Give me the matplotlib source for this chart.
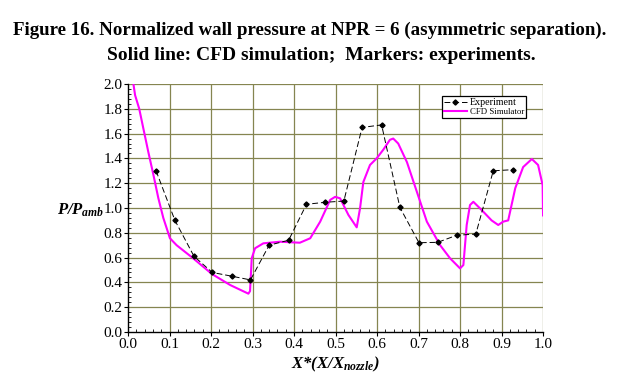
import matplotlib
matplotlib.use("Agg")
import matplotlib.pyplot as plt
from matplotlib.ticker import MultipleLocator

# Experimental data
exp_x = [0.0675, 0.113, 0.159, 0.203, 0.250, 0.295, 0.340, 0.387, 0.430, 0.475,
         0.520, 0.564, 0.611, 0.655, 0.701, 0.746, 0.792, 0.838, 0.880, 0.927]
exp_y = [1.30, 0.90, 0.61, 0.48, 0.45, 0.42, 0.70, 0.74, 1.03, 1.046,
         1.056, 1.65, 1.67, 1.005, 0.72, 0.723, 0.78, 0.79, 1.30, 1.309]

# CFD simulation
cfd_x = [0.010, 0.013, 0.017, 0.027, 0.037, 0.049, 0.061, 0.073, 0.085, 0.101,
         0.117, 0.157, 0.202, 0.246, 0.290, 0.294, 0.298, 0.306, 0.326, 0.366,
         0.414, 0.439, 0.463, 0.487, 0.499, 0.511, 0.531, 0.551, 0.559, 0.567,
         0.583, 0.599, 0.615, 0.631, 0.639, 0.651, 0.672, 0.696, 0.720, 0.752,
         0.776, 0.800, 0.808, 0.816, 0.824, 0.832, 0.852, 0.876, 0.892, 0.904,
         0.916, 0.933, 0.952, 0.973, 0.988, 0.999, 1.000]
cfd_y = [2.05, 2.00, 1.91, 1.80, 1.64, 1.45, 1.27, 1.08, 0.92, 0.756,
         0.70, 0.594, 0.468, 0.379, 0.309, 0.33, 0.594, 0.675, 0.715, 0.728,
         0.720, 0.756, 0.89, 1.065, 1.09, 1.078, 0.944, 0.844, 0.997, 1.21,
         1.347, 1.40, 1.47, 1.55, 1.56, 1.52, 1.37, 1.13, 0.89, 0.70,
         0.594, 0.513, 0.54, 0.863, 1.024, 1.05, 0.984, 0.90, 0.863, 0.89,
         0.90, 1.16, 1.33, 1.395, 1.347, 1.185, 0.94]

x_ticks = [0.0, 0.1, 0.2, 0.3, 0.4, 0.5, 0.6, 0.7, 0.8, 0.9, 1.0]
y_ticks = [0.0, 0.2, 0.4, 0.6, 0.8, 1.0, 1.2, 1.4, 1.6, 1.8, 2.0]

serif = ["Liberation Serif", "DejaVu Serif"]
plt.rcParams['font.family'] = serif
plt.rcParams['mathtext.fontset'] = 'custom'
plt.rcParams['mathtext.it'] = 'Liberation Serif:bold:italic'
plt.rcParams['mathtext.rm'] = 'Liberation Serif:bold:italic'
plt.rcParams['mathtext.bf'] = 'Liberation Serif:bold'

fig = plt.figure(figsize=(6.2, 3.85), dpi=100)
ax = fig.add_axes([0.2065, 0.1377, 0.6694, 0.6441])

grid_color = "#858550"
for xv in x_ticks[1:]:
    ax.axvline(xv, color=grid_color, lw=0.9, zorder=0)
for yv in y_ticks[1:]:
    ax.axhline(yv, color=grid_color, lw=0.9, zorder=0)

ax.plot(exp_x, exp_y, color="black", lw=0.7, ls=(0, (6, 3)), marker="D",
        markersize=2.6, label="Experiment", zorder=3)
ax.plot(cfd_x, cfd_y, color="#ff00ff", lw=1.5, label="CFD Simulator", zorder=2)

ax.set_xlim(0, 1.0)
ax.set_ylim(0, 2.0)
ax.set_xticks(x_ticks)
ax.set_yticks(y_ticks)
ax.set_xticklabels([f"{v:.1f}" for v in x_ticks])
ax.set_yticklabels([f"{v:.1f}" for v in y_ticks])
ax.xaxis.set_minor_locator(MultipleLocator(0.02))
ax.yaxis.set_minor_locator(MultipleLocator(0.04))
ax.tick_params(axis="both", which="major", direction="out", length=3, width=0.8,
               labelsize=11, pad=1)
ax.tick_params(axis="both", which="minor", direction="in", length=2, width=0.6)
for s in ["top", "right"]:
    ax.spines[s].set_visible(False)
for s in ["left", "bottom"]:
    ax.spines[s].set_linewidth(1.0)

leg = ax.legend(loc="upper left", bbox_to_anchor=(0.757, 0.95), fontsize=6.3,
                frameon=True, fancybox=False, edgecolor="black", framealpha=1,
                handlelength=2.6, borderpad=0.2, labelspacing=0.1, handletextpad=0.4,
                borderaxespad=0.0)
leg.get_frame().set_linewidth(0.9)
leg.get_texts()[0].set_fontsize(7.2)

ax.set_xlabel(r"$X$*$(X/X_{nozzle})$", fontsize=12, labelpad=3,
              fontweight="bold", fontstyle="italic")
fig.text(0.13, 0.455, r"$P/P_{amb}$", fontsize=12, ha="center", va="center")

fig.text(0.5, 0.922, "Figure 16. Normalized wall pressure at NPR = 6 (asymmetric separation).",
         ha="center", va="center", fontsize=13.6, fontweight="bold")
fig.text(0.519, 0.857, "Solid line: CFD simulation;  Markers: experiments.",
         ha="center", va="center", fontsize=14, fontweight="bold")

fig.savefig("out.png", dpi=100)
